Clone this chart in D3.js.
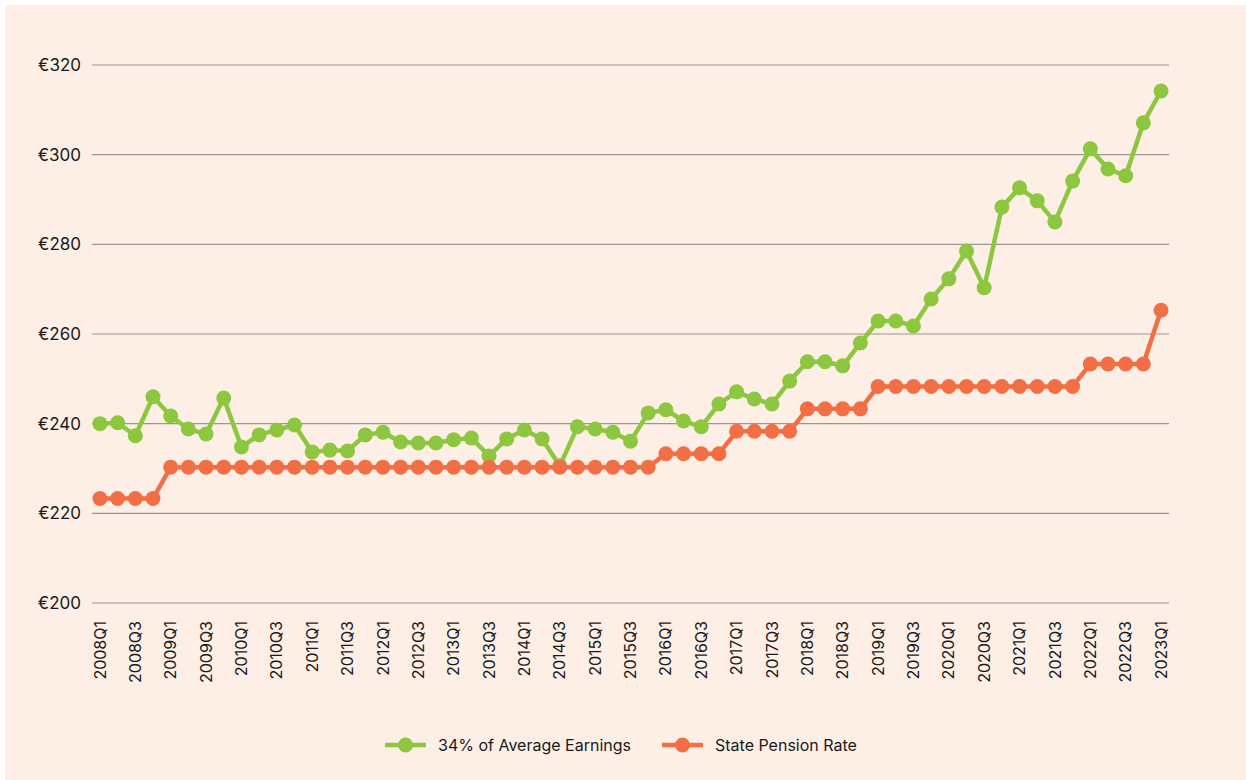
<!DOCTYPE html>
<html>
<head>
<meta charset="utf-8">
<script src="https://cdn.jsdelivr.net/npm/d3@7"></script>
<style>
  body { margin: 0; background: #fff; }
  svg { display: block; }
  text { font-family: 'Inter', 'Open Sans', sans-serif; fill: #1a1a1a; }
</style>
</head>
<body>
<script>
// quarters 2008Q1 .. 2023Q1
const quarters = [];
for (let y = 2008; y <= 2023; y++) {
  for (let q = 1; q <= 4; q++) {
    if (y === 2023 && q > 1) break;
    quarters.push(y + 'Q' + q);
  }
}

const earnings = [
  240.0, 240.2, 237.3, 246.0, 241.7, 238.8, 237.7, 245.7,
  234.8, 237.5, 238.6, 239.7, 233.7, 234.1, 233.9, 237.5,
  238.1, 235.9, 235.7, 235.7, 236.4, 236.8, 232.8, 236.6,
  238.6, 236.6, 230.6, 239.3, 238.8, 238.1, 236.1, 242.4,
  243.1, 240.6, 239.3, 244.4, 247.1, 245.5, 244.4, 249.5,
  253.8, 253.8, 252.9, 258.0, 262.9, 262.9, 261.8, 267.8,
  272.3, 278.5, 270.3, 288.3, 292.6, 289.7, 285.0, 294.1,
  301.3, 296.8, 295.3, 307.1, 314.2
];

const pension = [
  223.3, 223.3, 223.3, 223.3, 230.3, 230.3, 230.3, 230.3,
  230.3, 230.3, 230.3, 230.3, 230.3, 230.3, 230.3, 230.3,
  230.3, 230.3, 230.3, 230.3, 230.3, 230.3, 230.3, 230.3,
  230.3, 230.3, 230.3, 230.3, 230.3, 230.3, 230.3, 230.3,
  233.3, 233.3, 233.3, 233.3, 238.3, 238.3, 238.3, 238.3,
  243.3, 243.3, 243.3, 243.3, 248.3, 248.3, 248.3, 248.3,
  248.3, 248.3, 248.3, 248.3, 248.3, 248.3, 248.3, 248.3,
  253.3, 253.3, 253.3, 253.3, 265.3
];

const yTicks = [200, 220, 240, 260, 280, 300, 320];
const tickLabels = quarters.filter((d, i) => i % 2 === 0);

const series = [
  { name: '34% of Average Earnings', values: earnings, color: '#8dc63f' },
  { name: 'State Pension Rate', values: pension, color: '#f26f45' }
];

const w = 1246;
const h = 780;

const svg = d3.select('body')
              .append('svg')
              .attr('width', w)
              .attr('height', h);

svg.append('rect')
   .attr('x', 5)
   .attr('y', 5)
   .attr('width', w - 5)
   .attr('height', h - 5)
   .attr('fill', '#fdefe6');

const xScale = d3.scalePoint()
                 .domain(quarters)
                 .range([92, 1169])
                 .padding(0.45);

const yScale = d3.scaleLinear()
                 .domain([200, 320])
                 .range([603, 65]);

// gridlines
svg.append('g')
   .selectAll('line')
   .data(yTicks)
   .enter()
   .append('line')
   .attr('x1', 92)
   .attr('x2', 1169)
   .attr('y1', d => yScale(d))
   .attr('y2', d => yScale(d))
   .attr('stroke', '#9a9694')
   .attr('stroke-width', 1.2);

// y labels
svg.append('g')
   .selectAll('text')
   .data(yTicks)
   .enter()
   .append('text')
   .attr('x', 81)
   .attr('y', d => yScale(d))
   .attr('dy', '0.35em')
   .attr('text-anchor', 'end')
   .style('font-size', '17px')
   .text(d => '€' + d);

// x labels
svg.append('g')
   .selectAll('text')
   .data(tickLabels)
   .enter()
   .append('text')
   .attr('transform', d => 'translate(' + xScale(d) + ',621) rotate(-90)')
   .attr('dy', '0.35em')
   .attr('text-anchor', 'end')
   .style('font-size', '16px')
   .text(d => d);

const line = d3.line()
               .x((d, i) => xScale(quarters[i]))
               .y(d => yScale(d));

series.forEach(s => {
  const g = svg.append('g');
  g.append('path')
   .datum(s.values)
   .attr('d', line)
   .attr('fill', 'none')
   .attr('stroke', s.color)
   .attr('stroke-width', 4.5)
   .attr('stroke-linejoin', 'round');
  g.selectAll('circle')
   .data(s.values)
   .enter()
   .append('circle')
   .attr('cx', (d, i) => xScale(quarters[i]))
   .attr('cy', d => yScale(d))
   .attr('r', 7.5)
   .attr('fill', s.color);
});

// legend
const legendX = [385, 662];
const legend = svg.append('g')
                  .selectAll('g')
                  .data(series)
                  .enter()
                  .append('g')
                  .attr('transform', (d, i) => 'translate(' + legendX[i] + ',745)');

legend.append('line')
      .attr('x1', 0)
      .attr('x2', 41)
      .attr('stroke', d => d.color)
      .attr('stroke-width', 4.5);

legend.append('circle')
      .attr('cx', 20.5)
      .attr('r', 7.5)
      .attr('fill', d => d.color);

legend.append('text')
      .attr('x', 53)
      .attr('dy', '0.35em')
      .style('font-size', '16px')
      .text(d => d.name);
</script>
</body>
</html>
